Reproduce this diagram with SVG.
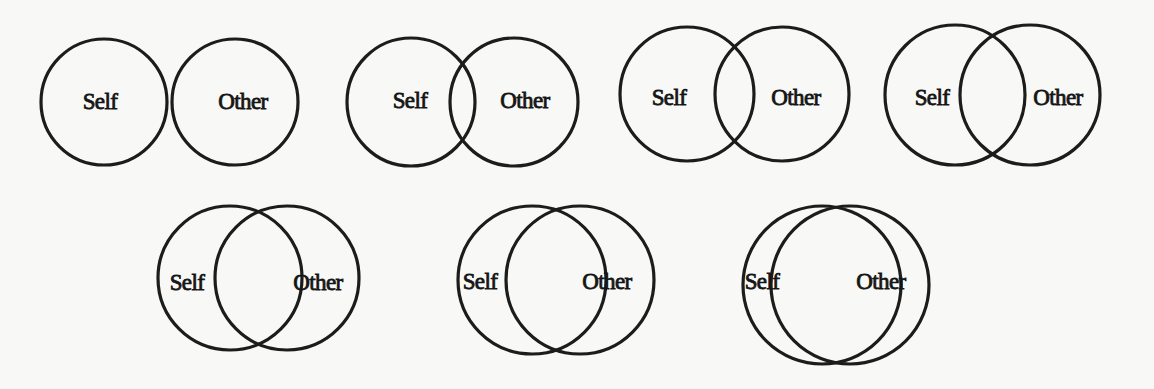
<svg xmlns="http://www.w3.org/2000/svg" width="1154" height="389" viewBox="0 0 1154 389">
<style>
.c{fill:none;stroke:#1c1c1c;stroke-width:3.2}
.t{font-family:"Liberation Serif","Times New Roman",serif;font-size:23px;fill:#151515;stroke:#151515;stroke-width:0.8;text-anchor:middle;letter-spacing:-0.6px}
</style>
<rect width="1154" height="389" fill="#f8f8f6"/>
<g id="d1">
<circle class="c" cx="104" cy="102" r="63"/>
<circle class="c" cx="235" cy="102" r="63"/>
<text class="t" x="100" y="109">Self</text>
<text class="t" x="243" y="109">Other</text>
</g>
<g id="d2">
<circle class="c" cx="411" cy="102" r="64"/>
<circle class="c" cx="514" cy="102" r="64"/>
<text class="t" x="410" y="108">Self</text>
<text class="t" x="525" y="108">Other</text>
</g>
<g id="d3">
<circle class="c" cx="687" cy="94" r="67"/>
<circle class="c" cx="782" cy="94" r="67"/>
<text class="t" x="669" y="105">Self</text>
<text class="t" x="796" y="105">Other</text>
</g>
<g id="d4">
<circle class="c" cx="955" cy="95" r="70"/>
<circle class="c" cx="1030" cy="95" r="70"/>
<text class="t" x="932" y="105">Self</text>
<text class="t" x="1058" y="105">Other</text>
</g>
<g id="d5">
<circle class="c" cx="230" cy="278" r="72"/>
<circle class="c" cx="287" cy="278" r="72"/>
<text class="t" x="187" y="290">Self</text>
<text class="t" x="318" y="290">Other</text>
</g>
<g id="d6">
<circle class="c" cx="532" cy="280" r="74"/>
<circle class="c" cx="580" cy="280" r="74"/>
<text class="t" x="480" y="289">Self</text>
<text class="t" x="607" y="289">Other</text>
</g>
<g id="d7">
<circle class="c" cx="822" cy="285" r="79"/>
<circle class="c" cx="850" cy="285" r="79"/>
<text class="t" x="762" y="289">Self</text>
<text class="t" x="881" y="289">Other</text>
</g>
<g id="connectors"/>
</svg>
